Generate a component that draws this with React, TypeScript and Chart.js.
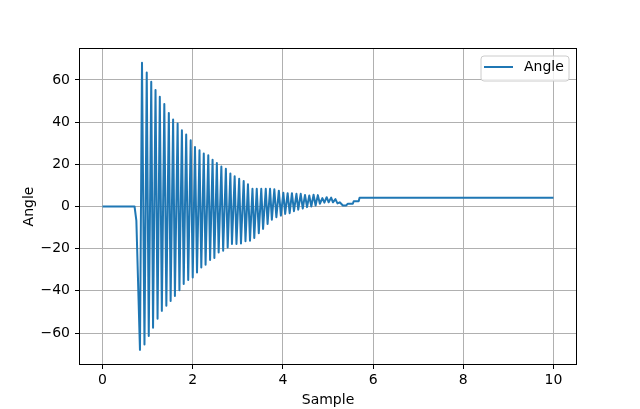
import React, { useEffect, useRef } from "react";
import { Chart, registerables } from "chart.js";

Chart.register(...registerables);

// Key points (peaks / troughs / corners)
const sampleX: number[] = [
  0, 0.71, 0.75, 0.83, 0.875, 0.93, 0.98, 1.025, 1.08, 1.12, 1.175, 1.22, 1.27, 1.315, 1.37, 1.415,
  1.47, 1.51, 1.565, 1.605, 1.665, 1.705, 1.76, 1.8, 1.855, 1.9, 1.955, 2.0, 2.05, 2.095, 2.15, 2.19,
  2.245, 2.285, 2.345, 2.385, 2.44, 2.48, 2.535, 2.575, 2.635, 2.675, 2.735, 2.775, 2.835, 2.87, 2.93,
  2.97, 3.03, 3.07, 3.13, 3.17, 3.225, 3.27, 3.325, 3.365, 3.42, 3.465, 3.52, 3.56, 3.62, 3.66, 3.715,
  3.755, 3.81, 3.855, 3.91, 3.955, 4.01, 4.05, 4.105, 4.15, 4.2, 4.245, 4.3, 4.34, 4.395, 4.44, 4.49,
  4.535, 4.585, 4.63, 4.68, 4.725, 4.775, 4.82, 4.875, 4.92, 4.97, 5.015, 5.07, 5.11, 5.165, 5.21, 5.26,
  5.33, 5.4, 5.44, 5.55, 5.57, 5.68, 5.7, 10,
];
const angleY: number[] = [
  0, 0, -6.7, -68, 68.2, -65.4, 63.5, -61.4, 59.2, -57.5, 55.2, -53.2, 52, -49.5, 48.6, -47.1,
  44.4, -44.8, 41.3, -42.4, 39.4, -39.7, 36.2, -36.8, 34.1, -34.9, 31.4, -33.7, 28.2, -31.3, 26.7, -28.9,
  25.1, -27.6, 24.3, -25.4, 22.2, -24.4, 20.6, -21.8, 19, -21, 17.9, -19.4, 15.6, -17.8, 14.3,
  -17.8, 13.2, -17.5, 12.1, -16.5, 10.5, -16.2, 8.4, -14.9, 8.4, -12.7, 8.4, -10.6, 8.4, -8.3, 8.4,
  -6.3, 8.2, -5.1, 7.5, -4.3, 6.5, -3.5, 6.3, -3.2, 6.3, -2.2, 6, -1.5, 6, -1, 5.5,
  -0.3, 5.2, 0, 5.6, 0.5, 5.4, 1.3, 4, 1.8, 4.4, 2, 4.2, 2, 3.5, 1.5, 2,
  0.5, 0.5, 1.3, 1.3, 2.5, 2.5, 4.1, 4.1,
];
const xTicks: number[] = [0, 2, 4, 6, 8, 10];
const yTicks: number[] = [-60, -40, -20, 0, 20, 40, 60];
const seriesLabel = "Angle";
const xTitle = "Sample";
const yTitle = "Angle";

const FONT = "DejaVu Sans";
const BLUE = "#1f77b4";

const fmt = (v: number) => (v < 0 ? "\u2212" + Math.abs(v) : String(v));

const decorPlugin = {
  id: "decor",
  afterDraw(chart: any) {
    const ctx = chart.ctx;
    const a = chart.chartArea;
    ctx.save();
    // frame
    ctx.strokeStyle = "#000";
    ctx.lineWidth = 1;
    ctx.strokeRect(Math.round(a.left) - 0.5, Math.round(a.top) - 0.5, Math.round(a.right - a.left) + 1, Math.round(a.bottom - a.top) + 1);
    // axis titles
    ctx.fillStyle = "#000";
    ctx.font = `14px "${FONT}"`;
    ctx.textAlign = "center";
    ctx.textBaseline = "middle";
    ctx.fillText(xTitle, (a.left + a.right) / 2, 400);
    ctx.save();
    ctx.translate(29, (a.top + a.bottom) / 2);
    ctx.rotate(-Math.PI / 2);
    ctx.fillText(yTitle, 0, 0);
    ctx.restore();
    // legend
    const bx = 481, by = 56, bw = 88, bh = 25, r = 3;
    ctx.beginPath();
    ctx.moveTo(bx + r, by);
    ctx.lineTo(bx + bw - r, by);
    ctx.arcTo(bx + bw, by, bx + bw, by + r, r);
    ctx.lineTo(bx + bw, by + bh - r);
    ctx.arcTo(bx + bw, by + bh, bx + bw - r, by + bh, r);
    ctx.lineTo(bx + r, by + bh);
    ctx.arcTo(bx, by + bh, bx, by + bh - r, r);
    ctx.lineTo(bx, by + r);
    ctx.arcTo(bx, by, bx + r, by, r);
    ctx.closePath();
    ctx.fillStyle = "rgba(255,255,255,0.8)";
    ctx.fill();
    ctx.strokeStyle = "#cccccc";
    ctx.lineWidth = 1;
    ctx.stroke();
    ctx.beginPath();
    ctx.moveTo(484, 67);
    ctx.lineTo(513, 67);
    ctx.strokeStyle = BLUE;
    ctx.lineWidth = 2;
    ctx.stroke();
    ctx.fillStyle = "#000";
    ctx.textAlign = "left";
    ctx.textBaseline = "middle";
    ctx.fillText(seriesLabel, 524, 67);
    ctx.restore();
  },
};

export default function App() {
  const ref = useRef<HTMLCanvasElement | null>(null);
  useEffect(() => {
    if (!ref.current) return;
    const data = sampleX.map((x, i) => ({ x, y: angleY[i] }));
    const chart = new Chart(ref.current, {
      type: "line",
      data: {
        datasets: [
          {
            label: seriesLabel,
            data,
            borderColor: BLUE,
            backgroundColor: BLUE,
            borderWidth: 2,
            pointRadius: 0,
            tension: 0,
            fill: false,
            borderJoinStyle: "round",
          },
        ],
      },
      options: {
        responsive: false,
        animation: false,
        layout: { padding: { top: 49, right: 64, left: 0, bottom: 0 } },
        plugins: { legend: { display: false }, tooltip: { enabled: false } },
        scales: {
          x: {
            type: "linear",
            min: -0.5,
            max: 10.5,
            afterBuildTicks: (s: any) => {
              s.ticks = xTicks.map((v) => ({ value: v }));
            },
            afterFit: (s: any) => {
              s.height = 45;
            },
            grid: { color: "#b0b0b0", lineWidth: 1, tickLength: 5, tickColor: "#000", drawTicks: true },
            border: { display: false },
            ticks: { color: "#000", font: { family: FONT, size: 14 }, padding: 3, maxRotation: 0, callback: (v: any) => fmt(Number(v)) },
          },
          y: {
            type: "linear",
            min: -74.7,
            max: 74.7,
            afterBuildTicks: (s: any) => {
              s.ticks = yTicks.map((v) => ({ value: v }));
            },
            afterFit: (s: any) => {
              s.width = 80;
            },
            grid: { color: "#b0b0b0", lineWidth: 1, tickLength: 5, tickColor: "#000", drawTicks: true },
            border: { display: false },
            ticks: { color: "#000", font: { family: FONT, size: 14 }, padding: 5, callback: (v: any) => fmt(Number(v)) },
          },
        },
      },
      plugins: [decorPlugin],
    });
    return () => chart.destroy();
  }, []);
  return (
    <div style={{ position: "absolute", left: 0, top: 0, width: 640, height: 409, background: "#fff" }}>
      <canvas ref={ref} width={640} height={409} style={{ display: "block" }} />
    </div>
  );
}
